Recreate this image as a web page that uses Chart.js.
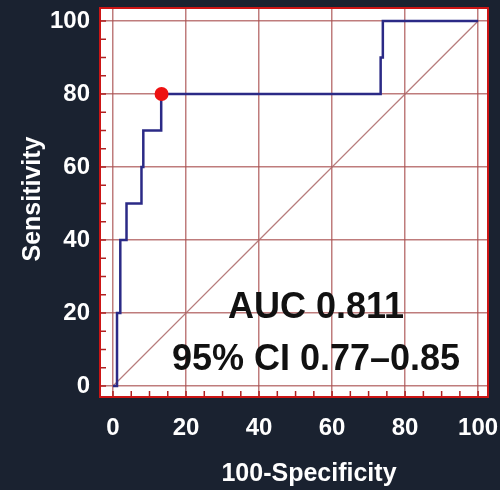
<!DOCTYPE html>
<html><head><meta charset="utf-8">
<script src="https://cdn.jsdelivr.net/npm/chart.js@4.4.0/dist/chart.umd.min.js"></script>
<style>html,body{margin:0;padding:0;background:#1a2230;overflow:hidden}#wrap{width:500px;height:490px;position:relative}</style>
</head><body><div id="wrap"><canvas id="c"></canvas></div>
<script>
// ROC curve (100-Specificity vs Sensitivity)
const rocFpr = [0, 1.1, 1.1, 2.0, 2.0, 3.7, 3.7, 7.8, 7.8, 8.3, 8.3, 13.2, 13.2, 73.3, 73.3, 73.9, 73.9, 100];
const rocTpr = [0, 0, 20, 20, 40, 40, 50, 50, 60, 60, 70, 70, 80, 80, 90, 90, 100, 100];
const refX = [0, 100];
const refY = [0, 100];
const cutoffX = [13.3];
const cutoffY = [80];
const tickValues = [0, 20, 40, 60, 80, 100];
const minorStep = 5;
const xTitle = '100-Specificity';
const yTitle = 'Sensitivity';
const annotLines = ['AUC 0.811', '95% CI 0.77–0.85'];

const BG = '#1a2230';
const FONT = '"Liberation Sans", Arial, sans-serif';

const toPts = (xs, ys) => xs.map((x, i) => ({x, y: ys[i]}));

const framePlugin = {
  id: 'frame',
  beforeDraw(chart) {
    const {ctx, chartArea: a} = chart;
    ctx.save();
    ctx.fillStyle = BG;
    ctx.fillRect(0, 0, chart.width, chart.height);
    ctx.fillStyle = '#ffffff';
    ctx.fillRect(a.left, a.top, a.right - a.left, a.bottom - a.top);
    ctx.restore();
  },
  afterDatasetsDraw(chart) {
    const {ctx, chartArea: a, scales} = chart;
    ctx.save();
    // annotation text
    ctx.fillStyle = '#111111';
    ctx.font = 'bold 36px ' + FONT;
    ctx.textAlign = 'center';
    ctx.textBaseline = 'alphabetic';
    const ax = scales.x.getPixelForValue(55.6);
    ctx.fillText(annotLines[0], ax, scales.y.getPixelForValue(18.6));
    ctx.fillText(annotLines[1], ax, scales.y.getPixelForValue(4.4));
    // minor ticks on left and bottom border
    ctx.strokeStyle = '#b02020';
    ctx.lineWidth = 1.5;
    ctx.beginPath();
    for (let v = 0; v <= 100; v += minorStep) {
      const py = scales.y.getPixelForValue(v);
      ctx.moveTo(a.left, py); ctx.lineTo(a.left + 6, py);
      const px = scales.x.getPixelForValue(v);
      ctx.moveTo(px, a.bottom); ctx.lineTo(px, a.bottom - 6);
    }
    ctx.stroke();
    // border
    ctx.strokeStyle = '#cc1515';
    ctx.lineWidth = 2;
    ctx.strokeRect(a.left, a.top, a.right - a.left, a.bottom - a.top);
    ctx.restore();
  },
  afterDraw(chart) {
    const {ctx} = chart;
    ctx.save();
    ctx.fillStyle = '#ffffff';
    ctx.font = 'bold 25px ' + FONT;
    ctx.textAlign = 'center';
    ctx.textBaseline = 'alphabetic';
    ctx.fillText(xTitle, 309, 481);
    ctx.translate(40, 199);
    ctx.rotate(-Math.PI / 2);
    ctx.fillText(yTitle, 0, 0);
    ctx.restore();
  }
};

const gridOpts = {color: 'rgba(170,80,80,0.75)', lineWidth: 1.5, drawTicks: false};
const tickFont = {family: FONT, size: 24, weight: 'bold'};

new Chart(document.getElementById('c'), {
  type: 'line',
  data: {
    datasets: [
      {data: toPts(cutoffX, cutoffY), showLine: false, pointRadius: 7, pointBackgroundColor: '#ee1111', pointBorderColor: '#ee1111', borderWidth: 0},
      {data: toPts(rocFpr, rocTpr), borderColor: '#2b2a86', borderWidth: 2.5, pointRadius: 0, tension: 0, fill: false},
      {data: toPts(refX, refY), borderColor: 'rgba(175,110,110,0.9)', borderWidth: 1.2, pointRadius: 0, fill: false}
    ]
  },
  options: {
    responsive: true,
    maintainAspectRatio: false,
    animation: false,
    layout: {padding: {top: 8, right: 12, left: 0, bottom: 0}},
    plugins: {legend: {display: false}, tooltip: {enabled: false}},
    scales: {
      x: {
        type: 'linear', min: -3.56, max: 102.7,
        afterBuildTicks: s => { s.ticks = tickValues.map(v => ({value: v})); },
        afterFit: s => { s.height = 93; s.paddingLeft = 0; s.paddingRight = 0; },
        grid: gridOpts, border: {display: false},
        ticks: {color: '#ffffff', font: tickFont, padding: 17}
      },
      y: {
        type: 'linear', min: -3.0, max: 103.56,
        afterBuildTicks: s => { s.ticks = tickValues.map(v => ({value: v})); },
        afterFit: s => { s.width = 100; s.paddingTop = 0; s.paddingBottom = 0; },
        grid: gridOpts, border: {display: false},
        ticks: {color: '#ffffff', font: tickFont, padding: 10}
      }
    }
  },
  plugins: [framePlugin]
});
</script></body></html>
